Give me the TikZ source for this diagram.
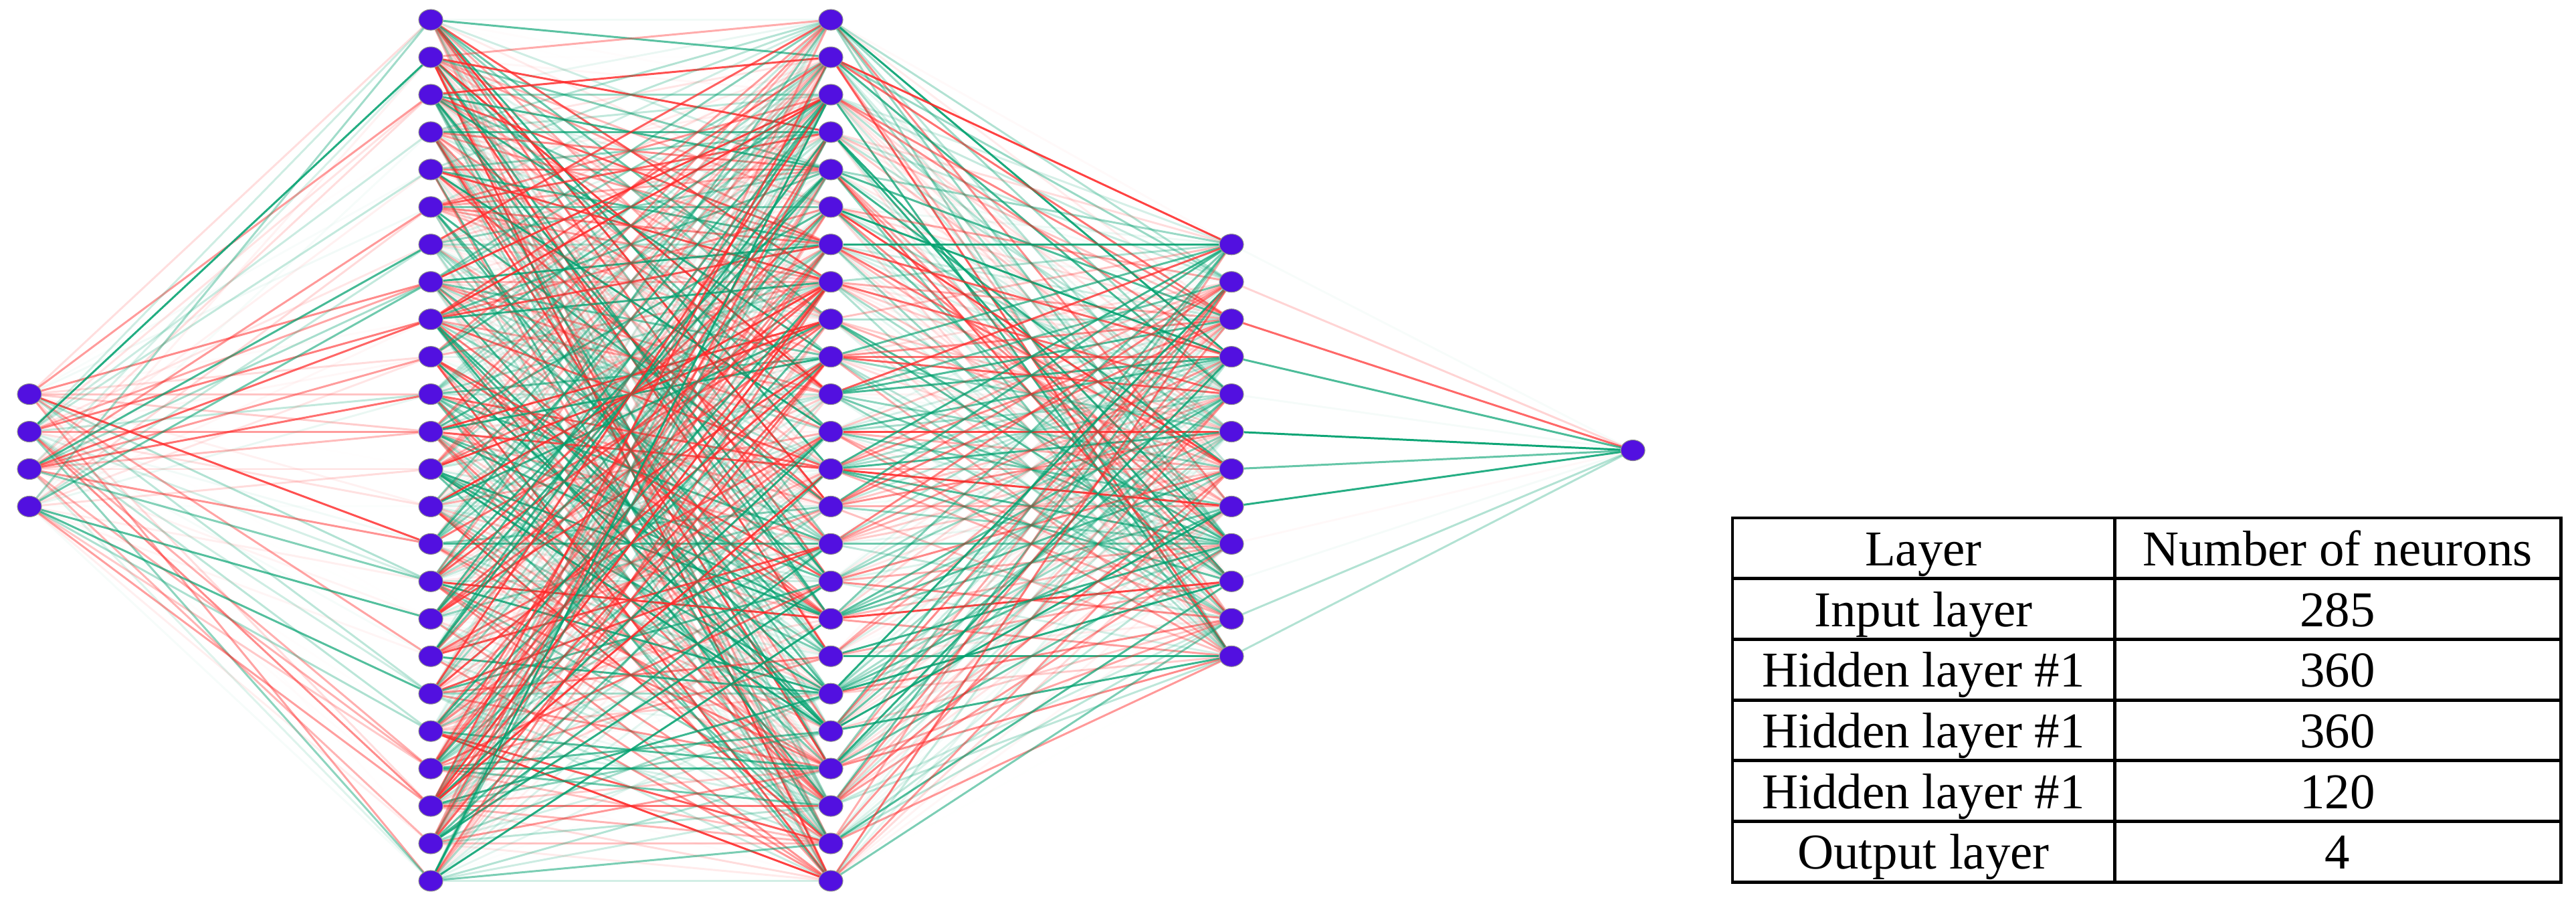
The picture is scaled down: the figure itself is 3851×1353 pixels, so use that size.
\documentclass[tikz,border=0pt]{standalone}
\usepackage{fontspec}
\setmainfont{Liberation Serif}
\usetikzlibrary{shapes.geometric}
\definecolor{neuron}{RGB}{82,16,224}
\definecolor{wred}{RGB}{255,40,40}
\definecolor{wgreen}{RGB}{0,160,110}
\pgfdeclarelayer{edges}
\pgfsetlayers{edges,main}
\begin{document}
\begin{tikzpicture}[x=0.01cm,y=-0.01cm,
  neuronnode/.style={ellipse, fill=neuron, draw=black!45, line width=0.3pt,
    minimum width=0.36cm, minimum height=0.31cm, inner sep=0pt},
  wedge/.style={line width=0.85pt},
  cellline/.style={line width=1.4pt},
  celltext/.style={anchor=base, font=\fontsize{21.3}{25}\selectfont, inner sep=0pt}]
\useasboundingbox (0,0) rectangle (3851,1353);
\def\sp{55.95}
% neurons
\foreach \k in {1,...,4}  \node[neuronnode] (a\k) at (44,{673+(\k-2.5)*\sp}) {};
\foreach \k in {1,...,24} \node[neuronnode] (b\k) at (644,{673+(\k-12.5)*\sp}) {};
\foreach \k in {1,...,24} \node[neuronnode] (c\k) at (1242,{673+(\k-12.5)*\sp}) {};
\foreach \k in {1,...,12} \node[neuronnode] (d\k) at (1841,{673+(\k-6.5)*\sp}) {};
\node[neuronnode] (out) at (2441,673) {};
% weighted connections
\pgfmathsetseed{4242}
\pgfmathdeclarerandomlist{wcols}{{wred}{wgreen}}
\begin{pgfonlayer}{edges}
\foreach \i in {1,...,4}{\foreach \j in {1,...,24}{
  \pgfmathrandomitem{\wc}{wcols}
  \pgfmathsetmacro{\wr}{rnd}
  \pgfmathsetmacro{\wo}{0.9*\wr*\wr*\wr}
  \draw[wedge, draw=\wc, draw opacity=\wo] (a\i) -- (b\j);
}}
\foreach \i in {1,...,24}{\foreach \j in {1,...,24}{
  \pgfmathrandomitem{\wc}{wcols}
  \pgfmathsetmacro{\wr}{rnd}
  \pgfmathsetmacro{\wo}{0.9*\wr*\wr}
  \draw[wedge, draw=\wc, draw opacity=\wo] (b\i) -- (c\j);
}}
\foreach \i in {1,...,24}{\foreach \j in {1,...,12}{
  \pgfmathrandomitem{\wc}{wcols}
  \pgfmathsetmacro{\wr}{rnd}
  \pgfmathsetmacro{\wo}{0.9*\wr*\wr}
  \draw[wedge, draw=\wc, draw opacity=\wo] (c\i) -- (d\j);
}}
\foreach \j/\wc/\wo in {1/wgreen/0.03, 2/wred/0.2, 3/wred/0.7, 4/wgreen/0.7,
  5/wgreen/0.04, 6/wgreen/0.95, 7/wgreen/0.6, 8/wgreen/0.85,
  9/wred/0.03, 10/wgreen/0.04, 11/wgreen/0.3, 12/wgreen/0.3}{
  \draw[wedge, draw=\wc, draw opacity=\wo] (d\j) -- (out);
}
\end{pgfonlayer}
% table
\def\tx{2590}\def\tm{3161}\def\tr{3828}
\def\ty{774}\def\rh{90.67}
\draw[cellline] (\tx,\ty) rectangle (\tr,{\ty+6*\rh});
\draw[cellline] (\tm,\ty) -- (\tm,{\ty+6*\rh});
\foreach \r in {1,...,5} \draw[cellline] (\tx,{\ty+\r*\rh}) -- (\tr,{\ty+\r*\rh});
\foreach \r/\ltxt/\ntxt in {0/Layer/Number of neurons, 1/Input layer/285,
   2/Hidden layer \#1/360, 3/Hidden layer \#1/360, 4/Hidden layer \#1/120,
   5/Output layer/4}{
  \node[celltext] (L\r) at (2875.5,{\ty+(\r+0.5)*\rh+26}) {\ltxt};
  \node[celltext] (N\r) at (3494.5,{\ty+(\r+0.5)*\rh+26}) {\ntxt};
}
\end{tikzpicture}
\end{document}
